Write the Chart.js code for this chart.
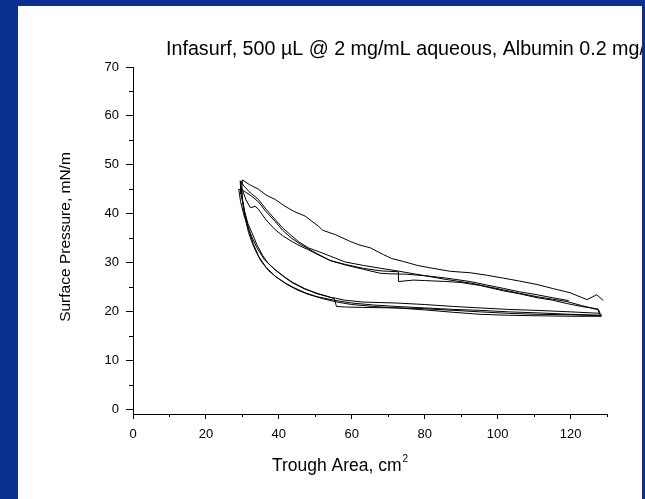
<!DOCTYPE html>
<html>
<head>
<meta charset="utf-8">
<script src="https://cdn.jsdelivr.net/npm/chart.js@4.4.0/dist/chart.umd.min.js"></script>
<style>
  html, body { margin: 0; padding: 0; background: #0b2f8e; }
  canvas { display: block; }
</style>
</head>
<body>
<canvas id="chart" width="645" height="499"></canvas>
<script>
const titleText = "Infasurf, 500 \u00b5L @ 2 mg/mL aqueous, Albumin 0.2 mg/mL";
const xTitle = "Trough Area, cm";
const yTitle = "Surface Pressure, mN/m";

const xTickValues = [0, 20, 40, 60, 80, 100, 120];
const xMinorValues = [10, 30, 50, 70, 90, 110, 130];
const yTickValues = [0, 10, 20, 30, 40, 50, 60, 70];
const yMinorValues = [5, 15, 25, 35, 45, 55, 65];

// cycle 1: compression (top curve) then expansion
const comp1X = [129, 127.2, 124.5, 119.9, 115, 110.8, 106, 101.6, 97, 92.5, 87, 81.5, 78, 74.2, 71, 68.7, 65.1, 62, 59.6, 55.5, 52, 50.9, 47.2, 44, 41.5, 39, 36.5, 34.4, 32, 30];
const comp1Y = [22.2, 23.4, 22.4, 23.8, 24.7, 25.5, 26.2, 26.8, 27.4, 27.9, 28.2, 28.9, 29.4, 30.2, 30.8, 31.6, 33.0, 33.6, 34.3, 35.7, 36.6, 37.4, 39.5, 40.5, 41.6, 42.9, 43.8, 45.0, 45.9, 46.9];
const exp1X = [30, 29.8, 30.3, 31.0, 31.7, 32.6, 33.5, 35, 37.2, 39.5, 41.8, 44, 47.2, 50.5, 55, 60, 66, 72.4, 80, 88, 95.2, 103, 110.8, 120, 128.5];
const exp1Y = [46.9, 44.5, 41.0, 38.3, 36.1, 34.2, 32.6, 30.4, 28.3, 26.9, 25.8, 24.9, 23.8, 23.0, 22.3, 21.7, 21.3, 21.0, 20.7, 20.4, 20.2, 19.9, 19.7, 19.4, 19.2];

// cycle 2
const comp2X = [128.5, 128.1, 127.7, 123, 119, 115, 110.8, 106, 101.6, 97, 92.5, 86.1, 80, 76.9, 72.3, 68, 63.2, 58.2, 54.1, 51, 48.1, 45.5, 43.6, 41, 39, 36.5, 34.4, 32.5, 31.7, 30.5, 29.4];
const comp2Y = [19.2, 19.6, 20.3, 21.2, 22.0, 22.5, 23.0, 23.7, 24.4, 25.1, 25.8, 26.5, 27.3, 27.7, 28.3, 28.8, 29.4, 30.1, 31.3, 32.2, 33.0, 34.2, 35.4, 37.1, 38.8, 40.9, 42.9, 44.1, 44.6, 45.6, 46.7];
const exp2X = [29.4, 29.6, 30.6, 31.5, 32.6, 34, 35.5, 37, 39, 41.5, 43.6, 47, 50.5, 53, 55.2, 55.8, 58, 63, 72.4, 78.3, 88, 95.2, 103, 110.8, 120, 128.3];
const exp2Y = [46.7, 44, 40.5, 38, 36.1, 33.6, 31.5, 29.9, 28.5, 27.1, 26.0, 24.7, 23.6, 23.1, 22.6, 21.0, 20.9, 20.8, 20.7, 20.6, 20.2, 19.9, 19.6, 19.4, 19.3, 19.1];

// cycle 3 (starts at ~120 cm2)
const comp3X = [119.5, 115, 110.8, 106, 101.6, 97, 92.5, 86, 80, 75, 70, 67.8, 63.2, 58.2, 54.1, 50, 46, 43.6, 41, 39, 36.5, 34.4, 32.5, 30.5, 29];
const comp3Y = [22.2, 22.8, 23.4, 24.0, 24.7, 25.4, 26.1, 26.8, 27.3, 27.6, 27.7, 27.8, 28.6, 29.5, 30.4, 32.0, 33.7, 34.9, 36.6, 38.4, 40.4, 42.4, 43.6, 44.6, 45.0];
const exp3X = [29, 29.5, 30.5, 31.7, 32.6, 34, 36, 39, 41.5, 43.6, 47, 50.5, 54.1, 55.5, 58, 63.1, 68, 72.4, 80, 88, 95.2, 103, 110.8, 120, 128];
const exp3Y = [45, 42.5, 39.5, 37.0, 35.2, 33.0, 30.6, 28.5, 27.0, 25.9, 24.6, 23.7, 22.9, 22.7, 22.3, 21.9, 21.8, 21.7, 21.4, 21.0, 20.7, 20.4, 20.2, 19.9, 19.6];

// cycle 4 (step near 73 cm2, kink near 33 cm2)
const comp4X = [128.3, 127.9, 127.5, 123, 119, 115, 110.8, 106, 101.6, 95.2, 90, 86.1, 80, 76.9, 72.8, 72.8, 70, 67.8, 63.2, 58.2, 54.1, 51, 48.1, 45.5, 43.6, 41, 39, 36.5, 34.4, 33.5, 32.2, 31, 29.8];
const comp4Y = [19.1, 19.5, 20.5, 21.0, 21.6, 22.3, 22.8, 23.6, 24.2, 25.3, 25.9, 26.1, 26.3, 26.4, 26.1, 28.1, 28.2, 28.3, 28.8, 29.6, 30.4, 31.5, 32.6, 33.5, 34.3, 35.5, 36.7, 38.7, 40.9, 41.5, 41.2, 42.8, 45.3];
const exp4X = [29.8, 30, 30.8, 31.8, 33, 34.5, 36.5, 39, 42, 45, 48, 52, 56, 60, 66, 72.4, 80, 88, 95.2, 103, 110.8, 120, 128.5];
const exp4Y = [45.3, 43, 39.5, 36.5, 33.8, 31.2, 29.0, 27.2, 25.6, 24.4, 23.5, 22.6, 21.9, 21.4, 21.0, 20.7, 20.3, 19.8, 19.4, 19.2, 19.1, 19.0, 19.0];

const curves = [
  [comp1X, comp1Y], [exp1X, exp1Y],
  [comp2X, comp2Y], [exp2X, exp2Y],
  [comp3X, comp3Y], [exp3X, exp3Y],
  [comp4X, comp4Y], [exp4X, exp4Y]
];

const FONT = "'Liberation Sans', Arial, sans-serif";

const decor = {
  id: 'decor',
  beforeDraw(chart) {
    const ctx = chart.ctx;
    ctx.save();
    ctx.fillStyle = '#0b2f8e';
    ctx.fillRect(0, 0, chart.width, chart.height);
    ctx.fillStyle = '#ffffff';
    ctx.fillRect(18, 6, 624, 493);
    ctx.restore();
  },
  afterDraw(chart) {
    const ctx = chart.ctx;
    const xs = chart.scales.x, ys = chart.scales.y;
    const area = chart.chartArea;
    ctx.save();
    // minor ticks
    ctx.strokeStyle = '#000';
    ctx.lineWidth = 1;
    ctx.beginPath();
    yMinorValues.forEach(v => {
      const p = Math.round(ys.getPixelForValue(v)) + 0.5;
      ctx.moveTo(area.left - 4, p);
      ctx.lineTo(area.left, p);
    });
    xMinorValues.forEach(v => {
      const p = Math.round(xs.getPixelForValue(v)) + 0.5;
      ctx.moveTo(p, area.bottom);
      ctx.lineTo(p, area.bottom + 3);
    });
    ctx.stroke();

    ctx.fillStyle = '#000';
    // title, clipped by the white panel
    ctx.save();
    ctx.beginPath();
    ctx.rect(18, 6, 624, 493);
    ctx.clip();
    ctx.font = '19.7px ' + FONT;
    ctx.textBaseline = 'alphabetic';
    ctx.textAlign = 'left';
    ctx.fillText(titleText, 166, 55);
    ctx.restore();

    // x title with superscript
    ctx.font = '17.5px ' + FONT;
    const w1 = ctx.measureText(xTitle).width;
    ctx.font = '10px ' + FONT;
    const w2 = ctx.measureText('2').width;
    const x0 = 340 - (w1 + w2 + 1) / 2;
    ctx.textAlign = 'left';
    ctx.font = '17.5px ' + FONT;
    ctx.fillText(xTitle, x0, 471);
    ctx.font = '10px ' + FONT;
    ctx.fillText('2', x0 + w1 + 1, 462);

    // y title
    ctx.translate(66, 237);
    ctx.rotate(-Math.PI / 2);
    ctx.font = '15.5px ' + FONT;
    ctx.textAlign = 'center';
    ctx.textBaseline = 'middle';
    ctx.fillText(yTitle, 0, 0);
    ctx.restore();
  }
};

new Chart(document.getElementById('chart'), {
  type: 'line',
  data: {
    datasets: curves.map(c => ({
      data: c[0].map((x, i) => ({ x: x, y: c[1][i] })),
      borderColor: '#000',
      borderWidth: 1,
      pointRadius: 0,
      tension: 0,
      fill: false
    }))
  },
  options: {
    responsive: false,
    animation: false,
    devicePixelRatio: 1,
    layout: { padding: { left: 0, right: 38, top: 67, bottom: 0 } },
    plugins: { legend: { display: false }, tooltip: { enabled: false } },
    scales: {
      x: {
        type: 'linear',
        min: 0,
        max: 130,
        afterBuildTicks: s => { s.ticks = xTickValues.map(v => ({ value: v })); },
        afterFit: s => { s.height = 85; },
        grid: { display: true, drawOnChartArea: false, drawTicks: true, tickLength: 5, color: '#000' },
        border: { display: true, color: '#000', width: 1 },
        ticks: { color: '#000', font: { family: FONT, size: 13 }, padding: 8, maxRotation: 0 }
      },
      y: {
        type: 'linear',
        min: -1,
        max: 70,
        afterBuildTicks: s => { s.ticks = yTickValues.map(v => ({ value: v })); },
        afterFit: s => { s.width = 133; },
        grid: { display: true, drawOnChartArea: false, drawTicks: true, tickLength: 7, color: '#000' },
        border: { display: true, color: '#000', width: 1 },
        ticks: { color: '#000', font: { family: FONT, size: 13 }, padding: 7 }
      }
    }
  },
  plugins: [decor]
});
</script>
</body>
</html>
